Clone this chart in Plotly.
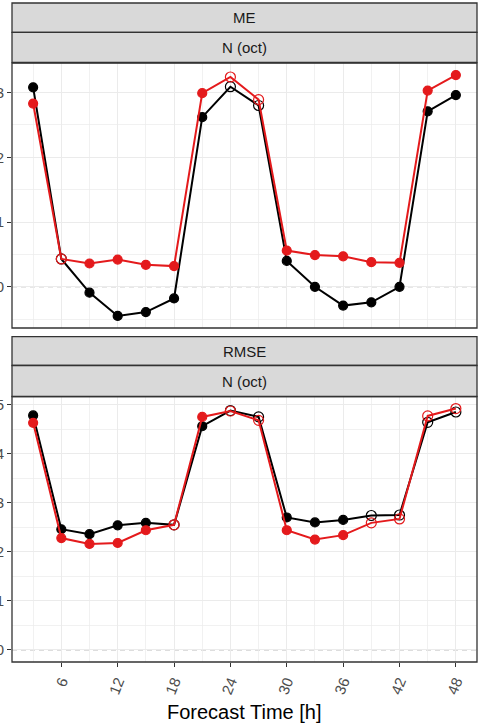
import plotly.graph_objects as go

W, H = 478, 725

lead_time = [3, 6, 9, 12, 15, 18, 21, 24, 27, 30, 33, 36, 39, 42, 45, 48]

me_black = [3.08, 0.43, -0.09, -0.45, -0.39, -0.18, 2.62, 3.09, 2.80, 0.40, 0.00, -0.29, -0.24, 0.00, 2.71, 2.96]
me_red = [2.83, 0.43, 0.36, 0.42, 0.34, 0.32, 2.99, 3.24, 2.89, 0.56, 0.49, 0.47, 0.38, 0.37, 3.03, 3.27]
me_black_open = [False, True, False, False, False, False, False, True, True, False, False, False, False, False, False, False]
me_red_open = [False, True, False, False, False, False, False, True, True, False, False, False, False, False, False, False]

rmse_black = [4.78, 2.46, 2.36, 2.54, 2.59, 2.55, 4.56, 4.88, 4.75, 2.70, 2.60, 2.65, 2.74, 2.75, 4.64, 4.85]
rmse_red = [4.63, 2.28, 2.16, 2.18, 2.44, 2.55, 4.75, 4.87, 4.68, 2.44, 2.25, 2.34, 2.59, 2.67, 4.77, 4.92]
rmse_black_open = [False, False, False, False, False, True, False, True, True, False, False, False, True, True, True, True]
rmse_red_open = [False, False, False, False, False, True, False, True, True, False, False, False, True, True, True, True]

x_ticks = [6, 12, 18, 24, 30, 36, 42, 48]
me_yticks = [0, 1, 2, 3]
rmse_yticks = [0, 1, 2, 3, 4, 5]

panel_titles = ["ME", "RMSE"]
strip_sub = "N (oct)"
x_title = "Forecast Time [h]"

BLACK = "#000000"
RED = "#E41A1C"
FONT = "Liberation Sans, Arial, sans-serif"


def fx(px):
    return px / W


def fy(px):
    return 1 - px / H


# pixel layout
PX_L, PX_R = 12, 477
P1_TOP, P1_BOT = 63, 328
P2_TOP, P2_BOT = 396.5, 662
S1 = (3, 32.3, 62.5)
S2 = (336.7, 365.5, 396.5)


def expand(vals, include0=True):
    lo = min(vals + ([0] if include0 else []))
    hi = max(vals + ([0] if include0 else []))
    d = (hi - lo) * 0.05
    return [lo - d, hi + d]


fig = go.Figure()


def add_series(y, opens, color, xa, ya):
    syms = ["circle-open" if o else "circle" for o in opens]
    fig.add_trace(go.Scatter(
        x=lead_time, y=y, mode="lines+markers", xaxis=xa, yaxis=ya,
        line=dict(color=color, width=2),
        marker=dict(color=color, size=[10 if o else 9 for o in opens], symbol=syms, opacity=1,
                    line=dict(color=color, width=1.2)),
        opacity=1, showlegend=False, hoverinfo="skip"))


add_series(me_black, me_black_open, BLACK, "x", "y")
add_series(me_red, me_red_open, RED, "x", "y")
add_series(rmse_black, rmse_black_open, BLACK, "x2", "y2")
add_series(rmse_red, rmse_red_open, RED, "x2", "y2")

xr = [3 - 45 * 0.05, 48 + 45 * 0.05]
grid = "#EBEBEB"
tickfont = dict(family=FONT, size=15, color="#4D4D4D")

xcommon = dict(range=xr, tickvals=x_ticks, showgrid=True, gridcolor=grid, gridwidth=1.1,
               zeroline=False, showline=False,
               minor=dict(tickvals=[3, 9, 15, 21, 27, 33, 39, 45], showgrid=True,
                          gridcolor=grid, gridwidth=0.7, ticks=""),
               domain=[fx(PX_L), fx(PX_R)])

ycommon = dict(showgrid=True, gridcolor=grid, gridwidth=1.1, zeroline=False, showline=False,
               ticks="outside", ticklen=4, tickcolor="#333333", tickwidth=1,
               tickfont=tickfont, automargin=False)

fig.update_layout(
    width=W, height=H,
    margin=dict(l=0, r=0, t=0, b=0),
    paper_bgcolor="white", plot_bgcolor="white",
    showlegend=False,
    xaxis=dict(**xcommon, anchor="y", showticklabels=False, ticks="", matches="x2"),
    xaxis2=dict(**xcommon, anchor="y2", showticklabels=True, ticks="outside", ticklen=4,
                tickcolor="#333333", tickwidth=1, tickangle=-68, tickfont=tickfont,
                automargin=False),
    yaxis=dict(**ycommon, anchor="x", range=expand(me_black + me_red), tickvals=me_yticks,
               minor=dict(dtick=0.5, tick0=0, showgrid=True, gridcolor=grid, gridwidth=0.7, ticks=""),
               domain=[fy(P1_BOT), fy(P1_TOP)]),
    yaxis2=dict(**ycommon, anchor="x2", range=expand(rmse_black + rmse_red), tickvals=rmse_yticks,
                minor=dict(dtick=0.5, tick0=0, showgrid=True, gridcolor=grid, gridwidth=0.7, ticks=""),
                domain=[fy(P2_BOT), fy(P2_TOP)]),
)

shapes = []
# zero dashed lines
for xa, ya in (("x", "y"), ("x2", "y2")):
    shapes.append(dict(type="line", xref=f"{xa} domain", yref=ya, x0=0, x1=1, y0=0, y1=0,
                       line=dict(color="#AFAFAF", width=1, dash="5px,4px"), layer="below"))

border = "#333333"
for top, bot in ((P1_TOP, P1_BOT), (P2_TOP, P2_BOT)):
    shapes.append(dict(type="rect", xref="paper", yref="paper", x0=fx(PX_L), x1=fx(PX_R),
                       y0=fy(bot), y1=fy(top), line=dict(color=border, width=1.3),
                       fillcolor="rgba(0,0,0,0)", layer="above"))

annotations = []
for (a, b, c), title in ((S1, panel_titles[0]), (S2, panel_titles[1])):
    for t0, t1, txt in ((a, b, title), (b, c, strip_sub)):
        shapes.append(dict(type="rect", xref="paper", yref="paper", x0=fx(PX_L), x1=fx(PX_R),
                           y0=fy(t1), y1=fy(t0), line=dict(color=border, width=1.3),
                           fillcolor="#D9D9D9", layer="above"))
        annotations.append(dict(text=txt, xref="paper", yref="paper",
                                x=fx((PX_L + PX_R) / 2), y=fy((t0 + t1) / 2),
                                xanchor="center", yanchor="middle", showarrow=False,
                                font=dict(family=FONT, size=15, color="#1A1A1A")))

annotations.append(dict(text=x_title, xref="paper", yref="paper", x=fx((PX_L + PX_R) / 2),
                        y=fy(712), xanchor="center", yanchor="middle", showarrow=False,
                        font=dict(family=FONT, size=20, color="#000000")))

fig.update_layout(shapes=shapes, annotations=annotations)

fig.write_html("out.html", config=dict(displayModeBar=False, staticPlot=True),
               post_script="document.body.style.margin='0px';document.body.style.overflow='hidden';")
